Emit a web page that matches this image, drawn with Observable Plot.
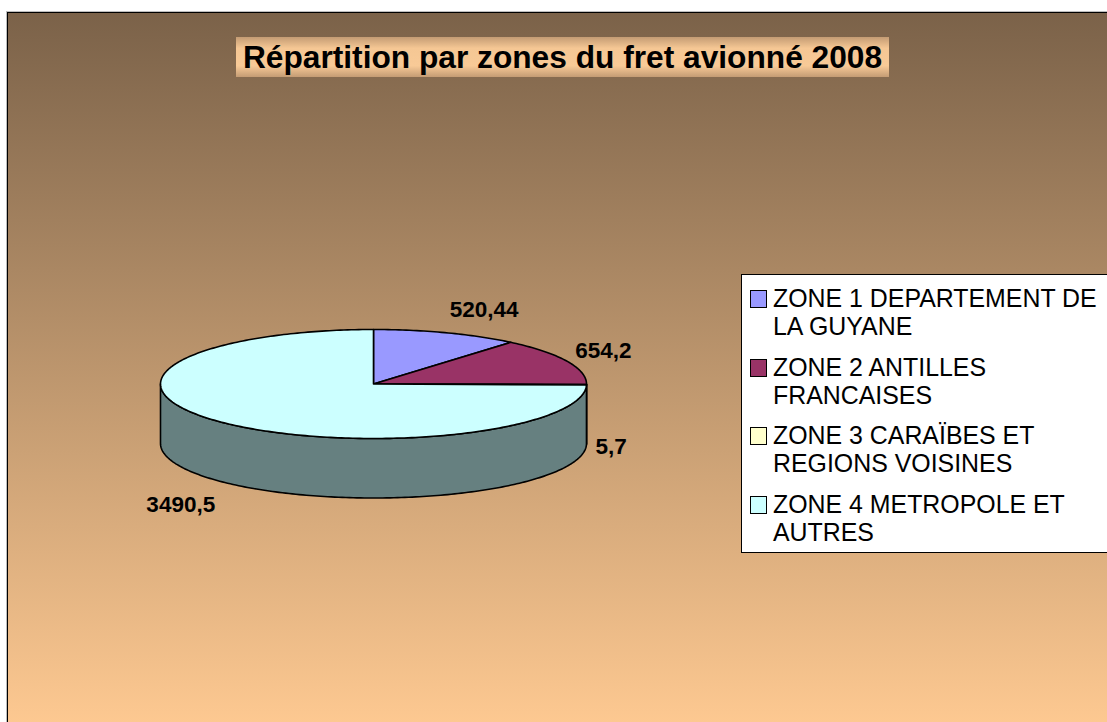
<!DOCTYPE html>
<html>
<head>
<meta charset="utf-8">
<script src="https://cdn.jsdelivr.net/npm/d3@7"></script>
<script src="https://cdn.jsdelivr.net/npm/@observablehq/plot@0.6"></script>
<style>
html, body { margin: 0; padding: 0; background: #fff; width: 1107px; height: 722px; overflow: hidden;
  font-family: "Liberation Sans", Arial, sans-serif; }
#chart { position: absolute; left: 7px; top: 12px; width: 1110px; height: 720px;
  border-left: 1px solid #000; border-top: 1px solid #000;
  background: linear-gradient(to bottom, #7b6249 0%, #ffca92 100%);
  box-shadow: -1px -1px 0 #bdbdbd; }
#plot { position: absolute; left: 0; top: 0; }
#title { position: absolute; left: 236px; top: 37px; width: 653px; height: 40px;
  background: linear-gradient(to bottom, #c49c74 0%, #f5c794 28%, #f8ca97 72%, #c49c74 100%);
  font-weight: bold; font-size: 31.7px; line-height: 41px; text-align: center; color: #000; white-space: nowrap; }
#legend { position: absolute; left: 741px; top: 274px; width: 420px; height: 277px;
  background: #fff; border: 1px solid #000; }
.item { position: absolute; left: 31px; font-size: 24.9px; line-height: 28px; color: #000; white-space: nowrap; }
.sw { position: absolute; left: 8px; width: 15px; height: 16px; border: 1px solid #000; }
</style>
</head>
<body>
<div id="chart"></div>
<div id="plot"></div>
<div id="title"></div>
<div id="legend"></div>
<script>
// ---- data ----
const title = "Répartition par zones du fret avionné 2008";
const zones = ["ZONE 1", "ZONE 2", "ZONE 3", "ZONE 4"];
const legendLines = [
  ["ZONE 1 DEPARTEMENT DE", "LA GUYANE"],
  ["ZONE 2 ANTILLES", "FRANCAISES"],
  ["ZONE 3 CARAÏBES ET", "REGIONS VOISINES"],
  ["ZONE 4 METROPOLE ET", "AUTRES"]
];
const values = [520.44, 654.2, 5.7, 3490.5];
const valueLabels = ["520,44", "654,2", "5,7", "3490,5"];
const palette = ["#9999ff", "#993366", "#ffffcc", "#ccffff"];
const sidePalette = ["#4d4d80", "#4d1a33", "#808066", "#668080"];

// ---- layout ----
const W = 1107, H = 722;
const cx = 373, cy = 383.5, rx = 213, ry = 54.5, depth = 59.5;
const pt = (a, dz = 0) => [cx + rx * Math.sin(a), cy - ry * Math.cos(a) + dz];

const arcs = d3.pie().sort(null).startAngle(0).endAngle(2 * Math.PI)(values);

function sample(a0, a1) {
  const n = Math.max(2, Math.ceil(Math.abs(a1 - a0) / (Math.PI / 180))) + 1;
  return d3.range(n).map(i => a0 + (a1 - a0) * i / (n - 1));
}

const topRows = [], sideRows = [], labelRows = [];
arcs.forEach((a, i) => {
  // top face
  const ring = [[cx, cy], ...sample(a.startAngle, a.endAngle).map(t => pt(t)), [cx, cy]];
  ring.forEach(([x, y]) => topRows.push({id: zones[i], fill: palette[i], x, y}));
  // front side wall
  const s0 = Math.max(a.startAngle, Math.PI / 2), s1 = Math.min(a.endAngle, 3 * Math.PI / 2);
  if (s1 > s0) {
    const ts = sample(s0, s1);
    const wall = [...ts.map(t => pt(t)), ...ts.slice().reverse().map(t => pt(t, depth))];
    wall.push(wall[0]);
    wall.forEach(([x, y]) => sideRows.push({id: zones[i], fill: sidePalette[i], x, y}));
  }
  // label (outside the slice, at its mid-angle)
  const m = (a.startAngle + a.endAngle) / 2;
  const front = Math.cos(m) < 0;
  const [ax, ay] = pt(m, front ? depth : 0);
  labelRows.push({
    text: valueLabels[i],
    x: ax + 9 * Math.sin(m),
    y: ay - (front ? 30 : 25) * Math.cos(m) + (front ? 2 : 0),
    anchor: Math.sin(m) >= 0 ? "start" : "end"
  });
});

const lineOpts = {x: "x", y: "y", z: "id", fill: "fill", stroke: "#000", strokeWidth: 1.6, strokeLinejoin: "round"};
const textOpts = {x: "x", y: "y", text: "text", fontSize: 22.5, fontWeight: "bold", fill: "#000",
  fontFamily: "Liberation Sans, Arial, sans-serif", lineAnchor: "middle"};

const chart = Plot.plot({
  width: W, height: H, margin: 0,
  style: {background: "transparent", overflow: "visible"},
  x: {domain: [0, W], range: [0, W], axis: null},
  y: {domain: [0, H], range: [0, H], axis: null},
  color: {type: "identity"},
  marks: [
    Plot.line(sideRows, lineOpts),
    Plot.line(topRows, lineOpts),
    Plot.text(labelRows.filter(d => d.anchor === "start"), {...textOpts, textAnchor: "start"}),
    Plot.text(labelRows.filter(d => d.anchor === "end"), {...textOpts, textAnchor: "end"})
  ]
});
document.getElementById("plot").appendChild(chart);

// title
document.getElementById("title").textContent = title;

// legend
const legend = document.getElementById("legend");
legendLines.forEach((lines, i) => {
  const top = 9 + i * 68.7;
  const sw = document.createElement("div");
  sw.className = "sw";
  sw.style.top = (top + 6) + "px";
  sw.style.background = palette[i];
  legend.appendChild(sw);
  const it = document.createElement("div");
  it.className = "item";
  it.style.top = top + "px";
  it.innerHTML = lines.map(l => l.replace(/&/g, "&amp;")).join("<br>");
  legend.appendChild(it);
});
</script>
</body>
</html>
